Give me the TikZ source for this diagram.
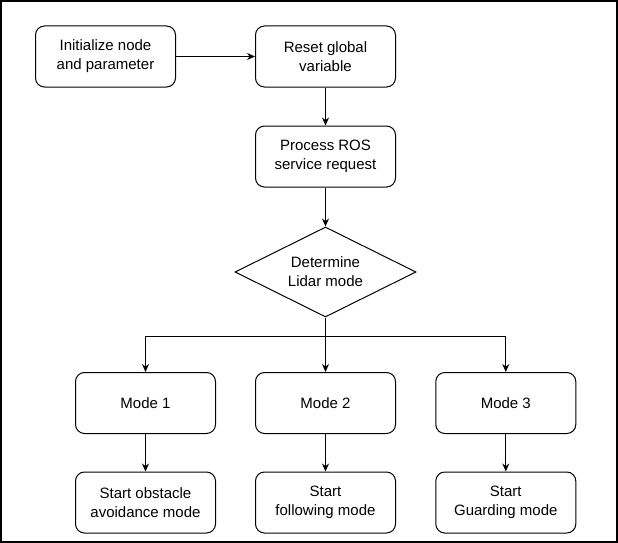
\documentclass[tikz,border=0pt]{standalone}
\usepackage{fontspec}
\setmainfont{Liberation Sans}
\usetikzlibrary{shapes.geometric,arrows.meta}

\begin{document}
\begin{tikzpicture}[x=1pt,y=-1pt,
  box/.style={draw,rounded corners=9pt,line width=1pt,minimum width=140pt,minimum height=61pt,align=center,font=\fontsize{15}{19}\selectfont},
  decision/.style={draw,diamond,aspect=2,line width=1pt,inner sep=0pt,minimum width=181pt,minimum height=90pt,align=center,font=\fontsize{15}{19}\selectfont},
  arrow/.style={line width=1pt,-{Stealth[length=8pt,width=7pt]}}]

\useasboundingbox (0,0) rectangle (618,543);
\draw[line width=2.4pt] (1.2,1.2) rectangle (616.8,541.8);

\node[box] (init) at (105.5,56.5) {Initialize node\\and parameter};
\node[box] (reset) at (325.5,56.5) {Reset global\\variable};
\node[box] (request) at (325.5,156.5) {Process ROS\\service request};
\node[decision] (lidar) at (325.5,272) {Determine\\Lidar mode};
\coordinate (branch) at (325.5,336);

\node[box] (mode1) at (145.5,403) {Mode 1};
\node[box] (mode2) at (325.5,403) {Mode 2};
\node[box] (mode3) at (505.8,403) {Mode 3};
\node[box] (start1) at (145.5,502.5) {Start obstacle\\avoidance mode};
\node[box] (start2) at (325.5,502.5) {Start\\following mode};
\node[box] (start3) at (505.8,502.5) {Start\\Guarding mode};

\draw[arrow] (init) -- (reset);
\draw[arrow] (reset) -- (request);
\draw[arrow] (request) -- (lidar);
\draw[line width=1pt] (lidar.south) -- (branch);
\draw[arrow] (branch) -| (mode1.north);
\draw[arrow] (branch) -- (mode2.north);
\draw[arrow] (branch) -| (mode3.north);
\draw[arrow] (mode1) -- (start1);
\draw[arrow] (mode2) -- (start2);
\draw[arrow] (mode3) -- (start3);

\end{tikzpicture}
\end{document}
